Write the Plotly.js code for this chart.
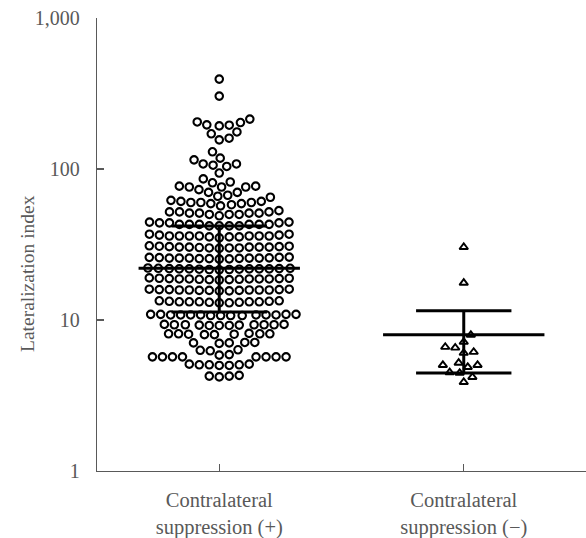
<!DOCTYPE html>
<html>
<head>
<meta charset="utf-8">
<script src="https://cdn.plot.ly/plotly-3.0.1.min.js"></script>
<style>html,body{margin:0;padding:0;background:#fff;}#chart{width:586px;height:538px;}</style>
</head>
<body>
<div id="chart"></div>
<script>
// ---- data ----
const categories = ["Contralateral<br>suppression (+)", "Contralateral<br>suppression (\u2212)"];
const yTickVals = [1, 10, 100, 1000];
const yTickText = ["1", "10", "100", "1,000"];

// Contralateral suppression (+) : lateralization index of each case
const suppPlus = [
  394, 304,
  214, 205, 196, 193, 195, 203,
  176, 171, 160, 156,
  130,
  118, 115, 108, 106, 104, 108,
  94,
  86, 81, 77, 76, 76, 76, 77, 82,
  70, 66, 65, 67, 70, 73,
  60, 59, 61, 58, 60, 62, 59, 57, 61, 60,
  51, 52, 50, 51, 53, 50, 52, 51, 49, 52, 51, 50,
  43, 44, 42, 43, 44.5, 43, 42, 44, 43, 42, 44, 43, 44.5, 42, 43,
  36, 36.5, 35.5, 36, 37, 36, 35.5, 36.5, 36, 35, 36, 37, 36, 35.5, 36,
  30.4, 30, 30.8, 30.4, 30, 31, 30.4, 29.8, 30.6, 30.4, 30, 30.8, 30.2, 30.4, 30.6,
  25.7, 25.5, 26, 25.7, 25.3, 26, 25.7, 25.5, 25.9, 25.7, 25.4, 26.1, 25.7, 25.6, 25.8,
  21.8, 22, 21.6, 21.8, 22.1, 21.5, 21.8, 21.9, 21.7, 21.8, 22, 21.6, 21.8, 21.9, 21.7,
  18.7, 18.9, 18.5, 18.7, 18.8, 18.6, 18.7, 19, 18.4, 18.7, 18.8, 18.6, 18.7, 18.9, 18.5,
  15.8, 15.9, 15.7, 15.8, 16, 15.6, 15.8, 15.9, 15.7, 15.8, 16, 15.6, 15.8, 15.9, 15.7,
  13.2, 13.3, 13.1, 13.2, 13.4, 13, 13.2, 13.3, 13.1, 13.2, 13.4, 13, 13.2,
  10.8, 10.9, 10.7, 10.8, 10.9, 10.7, 10.8, 10.8, 10.9, 10.7, 10.8, 10.9, 10.7, 10.8, 10.8,
  9.3, 9.2, 9.35, 9.25, 9.3, 9.2, 9.35, 9.3, 9.25, 9.3, 9.2, 9.3,
  8.1, 8.05, 8.1, 8.0, 8.15, 8.1, 8.05, 8.1, 8.0,
  7.05, 7.1, 7.0, 7.05, 7.1,
  6.3, 6.35, 6.25,
  5.9, 5.85,
  5.7, 5.7, 5.7, 5.7, 5.7, 5.7, 5.7, 5.7,
  5.05, 5.0, 5.1, 5.05, 5.0, 5.1, 5.05,
  4.25, 4.2, 4.25, 4.3
];

// Contralateral suppression (-) : lateralization index of each case
const suppMinus = [30.4, 17.6, 7.96, 7.15, 6.63, 6.55, 6.14, 6.05, 5.2, 5.03, 5.03, 4.88, 4.5, 4.46, 4.19, 3.88];

// summary lines (centre line and the two whiskers)
const centerValue = [22, 8];
const lowerValue = [11.3, 4.45];
const upperValue = [42, 11.5];

// ---- layout constants ----
const W = 586, H = 538;
const M = {l: 97, r: 0, t: 18, b: 67};
const plotW = W - M.l - M.r, plotH = H - M.t - M.b;
const xRange = [-0.5, 1.5], yRange = [0, 3];
const pxPerX = plotW / (xRange[1] - xRange[0]);
const pxPerDecade = plotH / (yRange[1] - yRange[0]);
const DOT = 10; // px spacing between neighbouring dots

function swarm(vals, centre) {
  const pts = vals.map(v => ({v: v, py: Math.log10(v) * pxPerDecade})).sort((a, b) => a.py - b.py);
  const placed = [];
  for (const p of pts) {
    const cands = [0];
    for (const q of placed) {
      const dy = Math.abs(q.py - p.py);
      if (dy < DOT) {
        const dx = Math.sqrt(DOT * DOT - dy * dy);
        cands.push(q.px + dx, q.px - dx);
      }
    }
    cands.sort((a, b) => Math.abs(a) - Math.abs(b));
    for (const c of cands) {
      if (placed.every(q => (q.px - c) ** 2 + (q.py - p.py) ** 2 >= DOT * DOT - 1e-6)) { p.px = c; break; }
    }
    placed.push(p);
  }
  return {x: placed.map(p => centre + p.px / pxPerX), y: placed.map(p => p.v)};
}

const s0 = swarm(suppPlus, 0);
const s1 = swarm(suppMinus, 1);

const traces = [
  {type: 'scatter', mode: 'markers', x: s0.x, y: s0.y, hoverinfo: 'y',
   marker: {symbol: 'circle-open', size: 7.5, color: '#000', line: {color: '#000', width: 2.1}}},
  {type: 'scatter', mode: 'markers', x: s1.x, y: s1.y, hoverinfo: 'y',
   marker: {symbol: 'triangle-up-open', size: 7.5, color: '#000', line: {color: '#000', width: 1.9}}}
];

const wideHalf = 0.33, narrowHalf = 0.195;
[0, 1].forEach(i => {
  const ln = {color: '#000', width: 3};
  traces.push({type: 'scatter', mode: 'lines', x: [i - wideHalf, i + wideHalf], y: [centerValue[i], centerValue[i]], line: ln, hoverinfo: 'skip'});
  traces.push({type: 'scatter', mode: 'lines', x: [i - narrowHalf, i + narrowHalf], y: [upperValue[i], upperValue[i]], line: ln, hoverinfo: 'skip'});
  traces.push({type: 'scatter', mode: 'lines', x: [i - narrowHalf, i + narrowHalf], y: [lowerValue[i], lowerValue[i]], line: ln, hoverinfo: 'skip'});
  traces.push({type: 'scatter', mode: 'lines', x: [i, i], y: [lowerValue[i], upperValue[i]], line: ln, hoverinfo: 'skip'});
});

const FONT = "'Liberation Serif', 'Times New Roman', serif";
const GREY = '#595959';

const layout = {
  width: W, height: H,
  margin: M,
  showlegend: false,
  paper_bgcolor: '#fff', plot_bgcolor: '#fff',
  font: {family: FONT, size: 20, color: GREY},
  xaxis: {
    range: xRange, tickvals: [0, 1], ticktext: categories,
    showline: true, linecolor: GREY, linewidth: 1.3,
    ticks: 'inside', ticklen: 7, tickwidth: 1.3, tickcolor: GREY,
    showgrid: false, zeroline: false, ticklabelstandoff: 10,
    tickfont: {family: FONT, size: 20.5, color: GREY}
  },
  yaxis: {
    type: 'log', range: yRange, tickvals: yTickVals, ticktext: yTickText,
    showline: true, linecolor: GREY, linewidth: 1.3,
    ticks: 'inside', ticklen: 7, tickwidth: 1.3, tickcolor: GREY,
    showgrid: false, zeroline: false, ticklabelstandoff: 12,
    tickfont: {family: FONT, size: 20, color: GREY}
  },
  annotations: [{
    text: 'Lateralization index', textangle: -90, showarrow: false,
    xref: 'paper', yref: 'paper', x: (27 - M.l) / plotW, y: (H - M.b - 274) / plotH,
    xanchor: 'center', yanchor: 'middle',
    font: {family: FONT, size: 19.5, color: GREY}
  }]
};

Plotly.newPlot('chart', traces, layout, {displayModeBar: false, staticPlot: true});
</script>
</body>
</html>
